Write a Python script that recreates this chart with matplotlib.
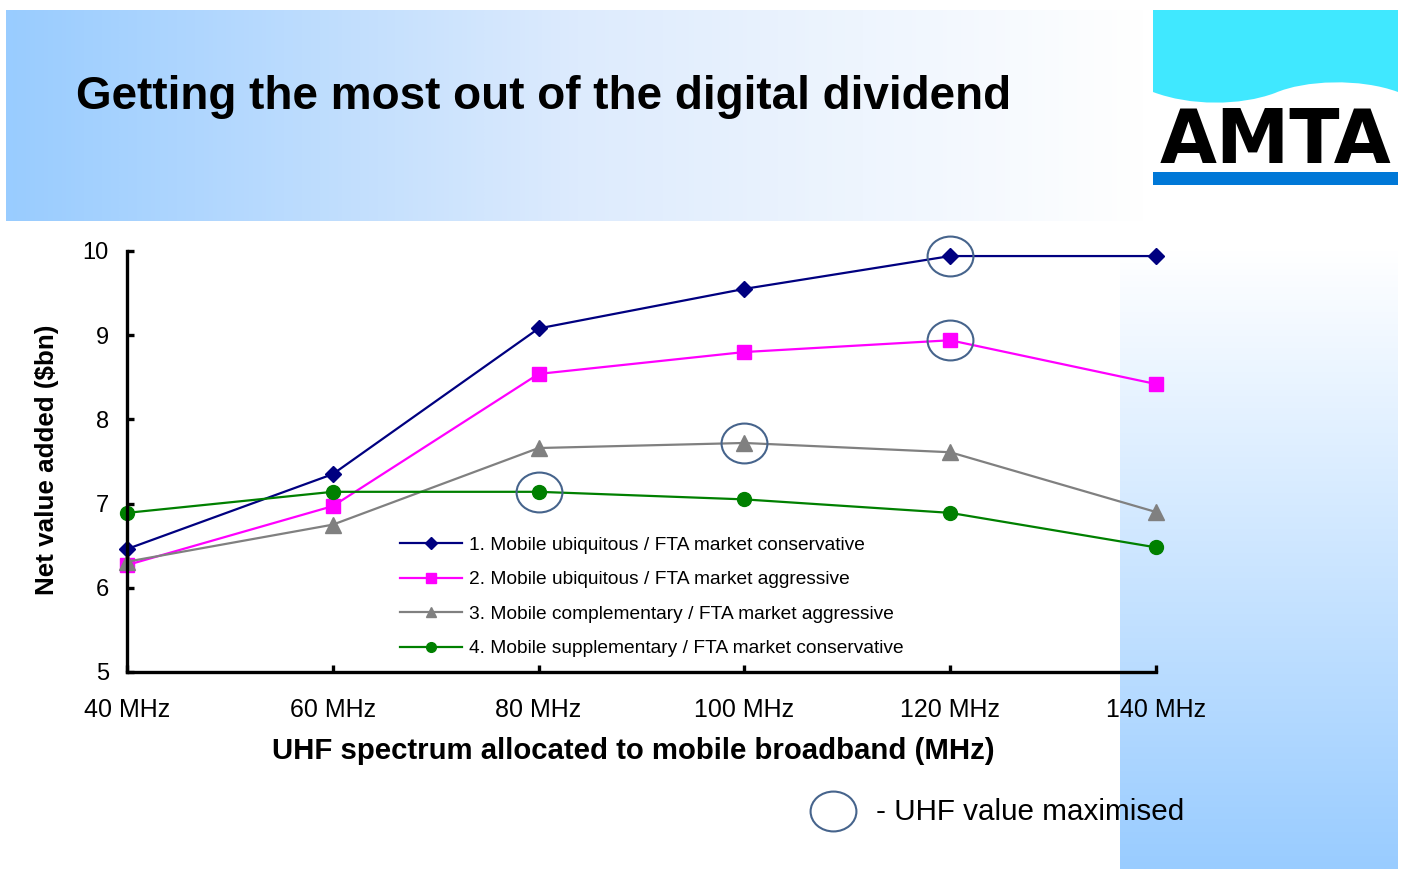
import numpy as np
import matplotlib
matplotlib.use("Agg")
import matplotlib.pyplot as plt
from matplotlib.path import Path
from matplotlib.patches import PathPatch, Rectangle
from matplotlib.transforms import Affine2D
from matplotlib.colors import LinearSegmentedColormap
from matplotlib.lines import Line2D

plt.rcParams['font.family'] = ['Liberation Sans', 'DejaVu Sans']

# ---------------- data ----------------
spectrum_mhz = [40, 60, 80, 100, 120, 140]
tick_labels = ["40 MHz", "60 MHz", "80 MHz", "100 MHz", "120 MHz", "140 MHz"]

s1_ubiq_cons = [6.46, 7.35, 9.08, 9.55, 9.94, 9.94]
s2_ubiq_aggr = [6.27, 6.97, 8.54, 8.80, 8.94, 8.42]
s3_comp_aggr = [6.31, 6.75, 7.66, 7.72, 7.61, 6.90]
s4_supp_cons = [6.89, 7.14, 7.14, 7.05, 6.89, 6.48]

series_labels = [
    "1. Mobile ubiquitous / FTA market conservative",
    "2. Mobile ubiquitous / FTA market aggressive",
    "3. Mobile complementary / FTA market aggressive",
    "4. Mobile supplementary / FTA market conservative",
]
series_colors = ["#000080", "#FF00FF", "#808080", "#008000"]
series_markers = ["D", "s", "^", "o"]
series_msize = [8.5, 9.5, 11, 10]

# maximised points: (series index, spectrum value)
max_series = [0, 1, 2, 3]
max_at_mhz = [120, 120, 100, 80]

title = "Getting the most out of the digital dividend"
xlabel = "UHF spectrum allocated to mobile broadband (MHz)"
ylabel = "Net value added ($bn)"
note = "- UHF value maximised"

# ---------------- figure ----------------
W, H = 1408, 869
fig = plt.figure(figsize=(W / 100, H / 100), dpi=100)
fig.patch.set_facecolor("white")

bg = fig.add_axes([0, 0, 1, 1], zorder=-10)
bg.set_axis_off()

# banner gradient
cm_h = LinearSegmentedColormap.from_list("h", ["#99CCFF", "#DDEBFD", "#FFFFFF"])
bg.imshow(np.linspace(0, 1, 256)[None, :], cmap=cm_h, extent=(6, 1150, 221, 10),
          aspect="auto", interpolation="bilinear")
# right strip gradient (white top -> blue bottom)
cm_v = LinearSegmentedColormap.from_list("v", ["#FFFFFF", "#99CCFF"])
bg.imshow(np.linspace(0, 1, 256)[:, None], cmap=cm_v, extent=(1120, 1398, 869, 250),
          aspect="auto", interpolation="bilinear", origin="upper")

# logo
verts = [(1153, 10), (1398, 10), (1398, 92),
         (1360, 78), (1305, 80), (1275, 93),
         (1240, 106), (1190, 106), (1153, 92),
         (1153, 10)]
codes = [Path.MOVETO, Path.LINETO, Path.LINETO,
         Path.CURVE4, Path.CURVE4, Path.CURVE4,
         Path.CURVE4, Path.CURVE4, Path.CURVE4,
         Path.CLOSEPOLY]
bg.add_patch(PathPatch(Path(verts, codes), facecolor="#40E8FF", edgecolor="none"))
bg.add_patch(Rectangle((1153, 172), 245, 13, facecolor="#0078D7", edgecolor="none"))
bg.text(1276, 163, "AMTA", ha="center", va="baseline", fontsize=53,
        fontweight="bold", family=["DejaVu Sans"], color="black")

bg.set_xlim(0, W)
bg.set_ylim(H, 0)

# title
bg.text(76, 97, title, ha="left", va="center", fontsize=33, fontweight="bold", color="black")

# ---------------- main axes ----------------
x0, x1, y0, y1 = 127, 1156, 251, 672
ax = fig.add_axes([x0 / W, 1 - y1 / H, (x1 - x0) / W, (y1 - y0) / H], zorder=1)
ax.set_facecolor("none")

all_series = [s1_ubiq_cons, s2_ubiq_aggr, s3_comp_aggr, s4_supp_cons]
handles = []
for vals, lab, col, mk, ms in zip(all_series, series_labels, series_colors,
                                   series_markers, series_msize):
    ln, = ax.plot(spectrum_mhz, vals, color=col, lw=1.6, marker=mk, markersize=ms,
                  markeredgecolor=col, markerfacecolor=col, label=lab, clip_on=False)
    handles.append(ln)

ellipse = Path.unit_circle().transformed(Affine2D().scale(1.15, 1.0))
circ_color = "#46648C"
hx = [m for m in max_at_mhz]
hy = [all_series[s][spectrum_mhz.index(m)] for s, m in zip(max_series, max_at_mhz)]
ax.plot(hx, hy, linestyle="none", marker=ellipse, markersize=33,
        markerfacecolor="none", markeredgecolor=circ_color, markeredgewidth=1.5,
        clip_on=False, zorder=5)

ax.set_xlim(40, 140)
ax.set_ylim(5, 10)
ax.set_xticks(spectrum_mhz)
ax.set_xticklabels(tick_labels)
ax.set_yticks([5, 6, 7, 8, 9, 10])
for sp in ["top", "right"]:
    ax.spines[sp].set_visible(False)
for sp in ["left", "bottom"]:
    ax.spines[sp].set_linewidth(2.4)
    ax.spines[sp].set_color("black")
ax.tick_params(axis="both", direction="in", length=5, width=2.4, labelsize=17,
               colors="black")
ax.tick_params(axis="x", labelsize=18)
ax.tick_params(axis="y", pad=13)
ax.tick_params(axis="x", pad=19)

ax.set_xlabel(xlabel, fontsize=21.2, fontweight="bold")
ax.xaxis.label.set_va("center")
ax.xaxis.set_label_coords((633 - x0) / (x1 - x0), (y1 - 751) / (y1 - y0))
ax.set_ylabel(ylabel, fontsize=18.7, fontweight="bold")
ax.yaxis.label.set_va("center")
ax.yaxis.set_label_coords((47 - x0) / (x1 - x0), (y1 - 460) / (y1 - y0))

leg = ax.legend(handles=handles, loc="upper left",
                bbox_to_anchor=(400 / W, 1 - 536.5 / H), bbox_transform=fig.transFigure,
                frameon=False, fontsize=13.8, handlelength=3.25, handletextpad=0.36,
                labelspacing=0.89, borderpad=0, borderaxespad=0, markerscale=0.7)

# maximised note
fig.add_artist(Line2D([833 / W], [1 - 811 / H], transform=fig.transFigure,
                      linestyle="none", marker=ellipse, markersize=33,
                      markerfacecolor="none", markeredgecolor=circ_color,
                      markeredgewidth=1.5))
fig.text(876 / W, 1 - 812 / H, note, ha="left", va="center", fontsize=21.3, color="black")

fig.savefig("out.png", dpi=100, facecolor="white")
